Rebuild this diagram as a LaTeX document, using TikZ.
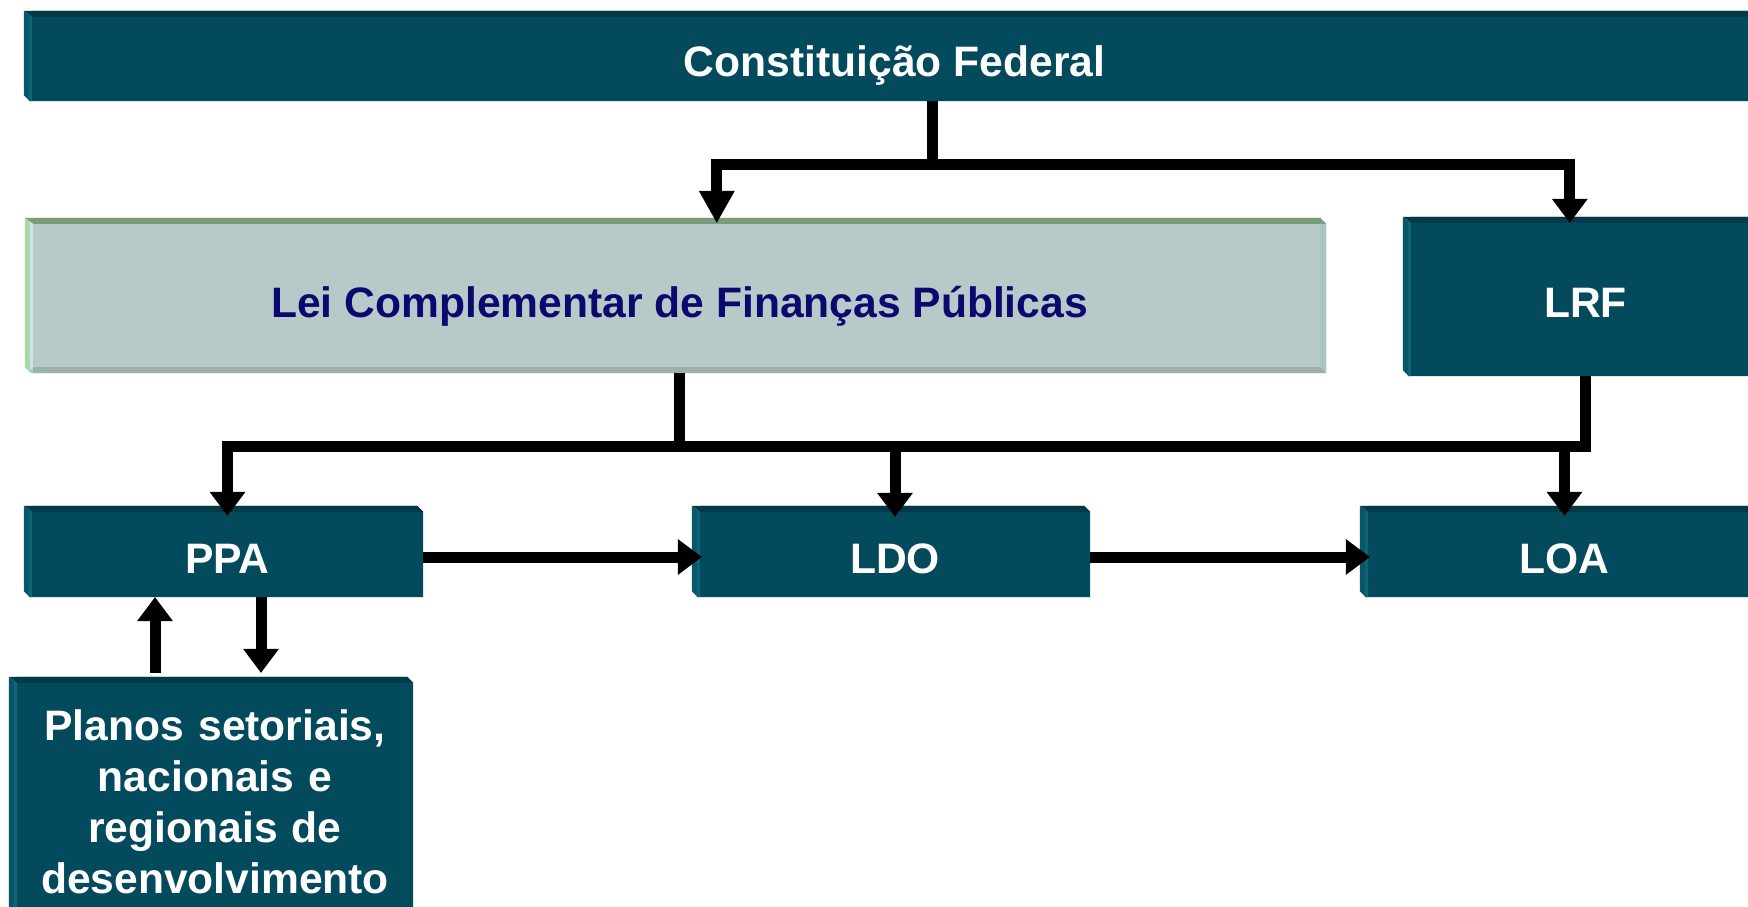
\documentclass[tikz,border=0pt]{standalone}
\usepackage{fontspec}
\setmainfont{Liberation Sans}
\usetikzlibrary{arrows.meta,calc}
\pgfdeclarelayer{bg}
\pgfsetlayers{bg,main}
\definecolor{cmain}{HTML}{044A5D}
\definecolor{ctop}{HTML}{033A47}
\definecolor{cleft}{HTML}{07566A}
\definecolor{cleftin}{HTML}{0F6478}
\definecolor{lmain}{HTML}{B8C9CA}
\definecolor{ltop}{HTML}{7B9B7B}
\definecolor{lleft}{HTML}{A8D8A8}
\definecolor{lleftin}{HTML}{CDE3E6}
\definecolor{lbottom}{HTML}{9CB0AA}
\definecolor{lright}{HTML}{A9C7BE}
\definecolor{navytext}{HTML}{0A0A6E}
\newcommand\darkdeco[1]{%
  \fill[cmain] (#1.north west) -- ($(#1.north east)+(-6,0)$) -- ($(#1.north east)+(0,6)$) -- (#1.south east) -- (#1.south west) -- cycle;
  \fill[ctop] ($(#1.north west)+(-8,0)$) -- ($(#1.north east)+(-6,0)$) -- ($(#1.north east)+(0,6)$) -- ($(#1.north west)+(0,6)$) -- cycle;
  \fill[cleft] ($(#1.north west)+(-8,0)$) -- ($(#1.north west)+(0,6)$) -- (#1.south west) -- ($(#1.south west)+(-2,0)$) -- ($(#1.south west)+(-8,-6)$) -- cycle;
  \fill[cleftin] ($(#1.north west)+(-3,4)$) -- ($(#1.north west)+(0,6)$) -- (#1.south west) -- ($(#1.south west)+(-3,0)$) -- cycle;
}
\newcommand\lightdeco[1]{%
  \fill[lmain] (#1.north west) -- ($(#1.north east)+(-6,0)$) -- ($(#1.north east)+(0,6)$) -- (#1.south east) -- (#1.south west) -- cycle;
  \fill[ltop] ($(#1.north west)+(-8,0)$) -- ($(#1.north east)+(-6,0)$) -- ($(#1.north east)+(0,6)$) -- ($(#1.north west)+(0,6)$) -- cycle;
  \fill[lright] ($(#1.north east)+(-6,6)$) -- ($(#1.north east)+(0,6)$) -- (#1.south east) -- ($(#1.south east)+(-6,-6)$) -- cycle;
  \fill[lbottom] ($(#1.south west)+(0,-6)$) -- ($(#1.south east)+(-6,-6)$) -- (#1.south east) -- (#1.south west) -- cycle;
  \fill[lleft] ($(#1.north west)+(-8,0)$) -- ($(#1.north west)+(0,6)$) -- (#1.south west) -- ($(#1.south west)+(-2,0)$) -- ($(#1.south west)+(-8,-6)$) -- cycle;
  \fill[lleftin] ($(#1.north west)+(-3,4)$) -- ($(#1.north west)+(0,6)$) -- ($(#1.south west)+(0,-4)$) -- ($(#1.south west)+(-3,-5)$) -- cycle;
}
\begin{document}
\begin{tikzpicture}[x=1pt,y=-1pt,
  bx/.style={inner sep=0pt, anchor=base, align=center, text=white,
    font=\fontsize{42.6}{51}\selectfont\bfseries},
  conn/.style={line width=11pt, draw=black},
  arr/.style={conn, -{Triangle[width=36pt,length=24pt,line width=0pt]}},
  arrlong/.style={conn, -{Triangle[width=36pt,length=32pt,line width=0pt]}}]
\useasboundingbox (0,0) rectangle (1748,907);
% boxes
\node[bx, minimum width=1725pt, text height=66pt, text depth=24pt] (cf) at (894.5,77) {Constituição Federal};
\node[bx, text=navytext, minimum width=1293pt, text height=99pt, text depth=56pt] (lcfp) at (679.5,317) {Lei Complementar de Finanças Públicas};
\node[bx, minimum width=349pt, text height=100pt, text depth=59pt] (lrf) at (1585.5,317) {LRF};
\node[bx, minimum width=391pt, text height=67pt, text depth=24pt] (ppa) at (227.5,573) {PPA};
\node[bx, minimum width=390pt, text height=67pt, text depth=24pt] (ldo) at (895,573) {LDO};
\node[bx, minimum width=393pt, text height=67pt, text depth=24pt] (loa) at (1564.5,573) {LOA};
\node[bx, text width=396pt, text height=63pt, text depth=220pt] (planos) at (215,740) {Planos setoriais,\\ nacionais e\\ regionais de\\ desenvolvimento};
\begin{pgfonlayer}{bg}
  \fill[white] (0,0) rectangle (1748,907);
  \darkdeco{cf}
  \lightdeco{lcfp}
  \darkdeco{lrf}
  \darkdeco{ppa}
  \darkdeco{ldo}
  \darkdeco{loa}
  \darkdeco{planos}
\end{pgfonlayer}
% connectors
\coordinate (j1) at (932,164);
\coordinate (bus) at (0,446);
\draw[conn] (cf.south -| j1) -- (j1);
\draw[arrlong] (j1) -| ($(lcfp.north west)+(684,5)$);
\draw[arr] (j1) -| ($(lrf.north west)+(159,6)$);
\draw[conn] (lcfp.south) -- (lcfp.south |- bus);
\draw[arr] (lrf.south) |- (ppa.north |- bus) -- ($(ppa.north)+(0,10)$);
\draw[arr] (ldo.north |- bus) -- ($(ldo.north)+(0,11)$);
\draw[arr] (loa.north |- bus) -- ($(loa.north)+(0,10)$);
\draw[arr] ($(ppa.east)+(0,5.5)$) -- ($(ldo.west |- ppa.east)+(2,5.5)$);
\draw[arr] ($(ldo.east)+(0,5.5)$) -- ($(loa.west |- ldo.east)+(2,5.5)$);
\draw[arr] ($(planos.north)+(-60,-4)$) -- ($(ppa.south)+(-72.5,0)$);
\draw[arr] ($(ppa.south)+(33.5,0)$) -- ($(planos.north)+(46,-4)$);
\end{tikzpicture}
\end{document}
